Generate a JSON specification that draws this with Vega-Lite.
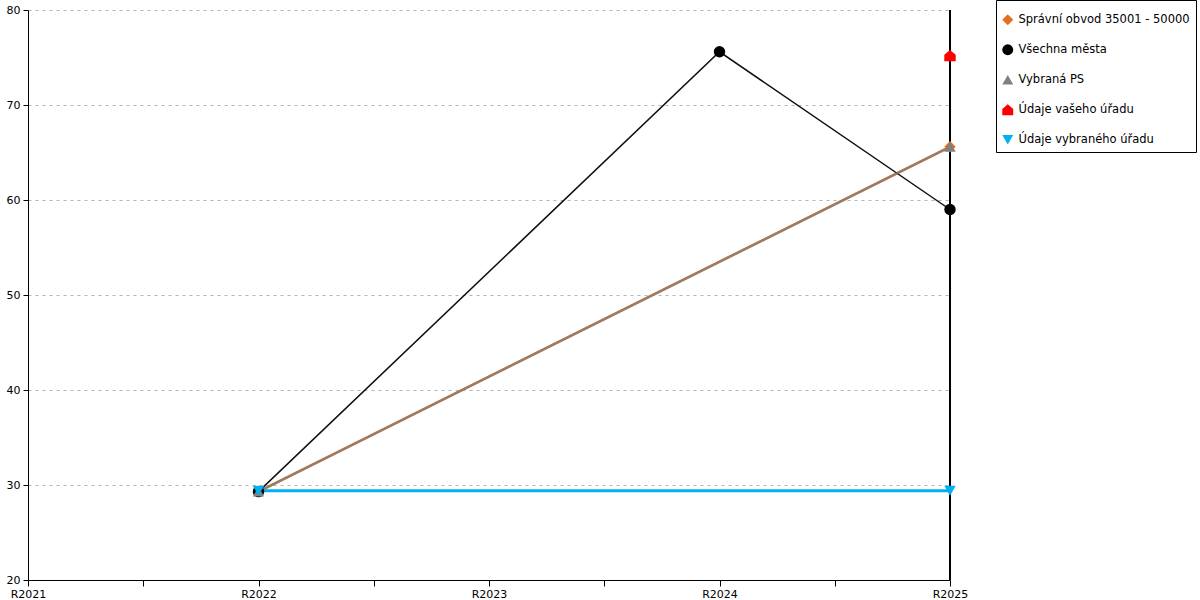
{
  "$schema": "https://vega.github.io/schema/vega-lite/v6.json",
  "width": 922,
  "height": 570,
  "autosize": {"type": "none"},
  "padding": {"left": 28, "top": 10, "right": 250, "bottom": 20},
  "background": "white",
  "config": {
    "font": "DejaVu Sans",
    "view": {"stroke": null},
    "axis": {"labelFont": "DejaVu Sans", "labelFontSize": 11, "labelColor": "#000", "domainColor": "#000", "tickColor": "#000"}
  },
  "data": {
    "values": [
      {"series": "Správní obvod 35001 - 50000", "year": 2022, "value": 29.3},
      {"series": "Správní obvod 35001 - 50000", "year": 2025, "value": 65.6},
      {"series": "Všechna města", "year": 2022, "value": 29.3},
      {"series": "Všechna města", "year": 2024, "value": 75.6},
      {"series": "Všechna města", "year": 2025, "value": 59.0},
      {"series": "Vybraná PS", "year": 2022, "value": 29.3},
      {"series": "Vybraná PS", "year": 2025, "value": 65.6},
      {"series": "Údaje vašeho úřadu", "year": 2025, "value": 75.2},
      {"series": "Údaje vybraného úřadu", "year": 2022, "value": 29.4},
      {"series": "Údaje vybraného úřadu", "year": 2025, "value": 29.4}
    ]
  },
  "encoding": {
    "x": {
      "field": "year", "type": "quantitative",
      "scale": {"domain": [2021, 2025], "nice": false, "zero": false},
      "axis": {
        "title": null,
        "values": [2021, 2021.5, 2022, 2022.5, 2023, 2023.5, 2024, 2024.5, 2025],
        "labelExpr": "datum.value % 1 == 0 ? 'R' + datum.value : ''",
        "grid": false, "tickSize": 6, "labelPadding": 2, "labelFlush": false, "labelOverlap": false
      }
    },
    "y": {
      "field": "value", "type": "quantitative",
      "scale": {"domain": [20, 80], "nice": false, "zero": false},
      "axis": {
        "title": null, "values": [20, 30, 40, 50, 60, 70, 80],
        "tickSize": 5, "labelPadding": 3,
        "grid": true, "gridColor": "#b4b4b4", "gridDash": [3, 4], "gridWidth": 1
      }
    }
  },
  "layer": [
    {
      "mark": {"type": "rule", "color": "#000", "strokeWidth": 1.5},
      "encoding": {
        "x": {"datum": 2025, "type": "quantitative"},
        "y": {"datum": 80, "type": "quantitative"},
        "y2": {"datum": 20}
      }
    },
    {
      "transform": [{"filter": "datum.series == 'Správní obvod 35001 - 50000'"}],
      "mark": {"type": "line", "color": "#E0701E", "strokeWidth": 2.5}
    },
    {
      "transform": [{"filter": "datum.series == 'Všechna města'"}],
      "mark": {"type": "line", "color": "#111111", "strokeWidth": 1.5}
    },
    {
      "transform": [{"filter": "datum.series == 'Vybraná PS'"}],
      "mark": {"type": "line", "color": "#808080", "strokeWidth": 2.5, "opacity": 0.7}
    },
    {
      "transform": [{"filter": "datum.series == 'Údaje vybraného úřadu'"}],
      "mark": {"type": "line", "color": "#00B0F0", "strokeWidth": 3}
    },
    {
      "mark": {"type": "point", "filled": true, "opacity": 1, "size": 130},
      "encoding": {
        "color": {
          "field": "series", "type": "nominal",
          "scale": {
            "domain": ["Správní obvod 35001 - 50000", "Všechna města", "Vybraná PS", "Údaje vašeho úřadu", "Údaje vybraného úřadu"],
            "range": ["#E0701E", "#000000", "#808080", "#FF0000", "#00B0F0"]
          },
          "legend": {
            "title": " ", "titleFontSize": 2, "titlePadding": 6,
            "orient": "none", "legendX": 968, "legendY": -10,
            "strokeColor": "#000", "fillColor": "#fff", "padding": 6,
            "labelFont": "DejaVu Sans", "labelFontSize": 11.5, "labelColor": "#000", "labelLimit": 400,
            "symbolSize": 120, "rowPadding": 17, "labelOffset": 5,
            "symbolStrokeWidth": 0
          }
        },
        "shape": {
          "field": "series", "type": "nominal",
          "scale": {
            "domain": ["Správní obvod 35001 - 50000", "Všechna města", "Vybraná PS", "Údaje vašeho úřadu", "Údaje vybraného úřadu"],
            "range": ["diamond", "circle", "triangle-up", "M-1,1L1,1L1,-0.15L0,-1L-1,-0.15Z", "triangle-down"]
          }
        }
      }
    }
  ]
}
